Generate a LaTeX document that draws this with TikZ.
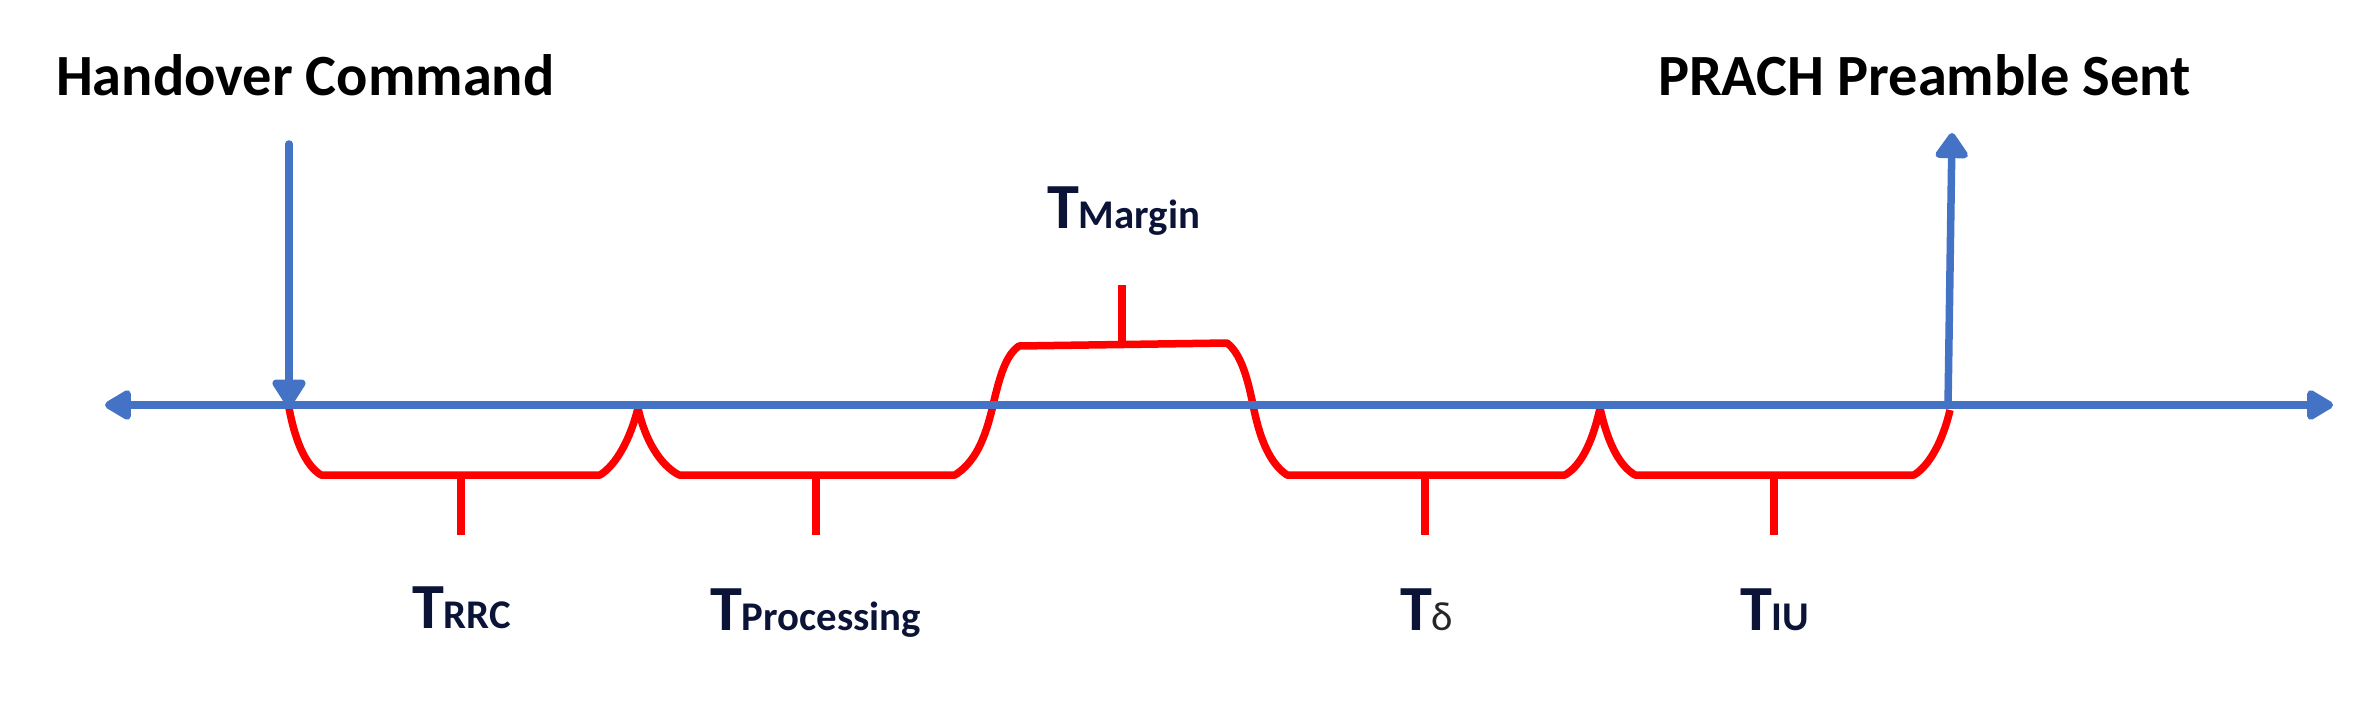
\documentclass[tikz,border=0pt]{standalone}
\usepackage{fontspec}
\setmainfont{Carlito}
\usetikzlibrary{arrows.meta}
\definecolor{axisblue}{HTML}{4472C4}
\definecolor{brred}{HTML}{FF0000}
\definecolor{navy}{HTML}{0B1437}
\definecolor{dgray}{HTML}{262626}
\newcommand{\Tlabel}[1]{{\fontsize{18.3}{18}\selectfont\bfseries T}{\fontsize{11.6}{12}\selectfont\bfseries #1}}
\tikzset{
  axisline/.style={draw=axisblue, line width=0.075cm},
  evarrow/.style={draw=axisblue, line width=0.075cm, line cap=round},
  bracket/.style={draw=brred, line width=0.075cm, line join=round},
  heading/.style={inner sep=0pt, outer sep=0pt, anchor=base west, font=\fontsize{16.6}{18}\selectfont\bfseries},
  tlab/.style={inner sep=0pt, outer sep=0pt, anchor=base west, text=navy}
}
\begin{document}
\begin{tikzpicture}[x=0.01cm, y=-0.01cm]
\useasboundingbox (0,0) rectangle (2355,706);

% key points on the axis
\coordinate (axL) at (105,405);
\coordinate (axR) at (2333,405);
\coordinate (hcTop) at (289,144);
\coordinate (hcTip) at (289,407);
\coordinate (prBot) at (1948,405);
\coordinate (prTip) at (1952,133);

% red brackets
% T_RRC
\draw[bracket] (289,408) .. controls (295,440) and (305,465) .. (321,475)
  -- (600,475) .. controls (616,465) and (630,440) .. (638,408);
\draw[bracket] (461,475) -- (461,535);
% T_Processing
\draw[bracket] (638,408) .. controls (645,440) and (660,465) .. (679,475)
  -- (955,475) .. controls (975,462) and (985,440) .. (993,405);
\draw[bracket] (816,475) -- (816,535);
% T_Margin
\draw[bracket] (993,405) .. controls (1000,375) and (1006,355) .. (1019,346)
  -- (1227,343) .. controls (1240,353) and (1247,375) .. (1253,405);
\draw[bracket] (1122,345) -- (1122,285);
% T_delta
\draw[bracket] (1253,405) .. controls (1259,435) and (1268,462) .. (1287,475)
  -- (1565,475) .. controls (1582,465) and (1593,440) .. (1600,408);
\draw[bracket] (1425,475) -- (1425,535);
% T_IU
\draw[bracket] (1600,408) .. controls (1607,440) and (1618,465) .. (1635,475)
  -- (1914,475) .. controls (1930,465) and (1943,440) .. (1950,410);
\draw[bracket] (1774,475) -- (1774,535);

% time axis
\draw[axisline, {Triangle[length=0.3cm,width=0.33cm,round]}-{Triangle[length=0.3cm,width=0.33cm,round]}] (axL) -- (axR);

% event arrows
\draw[evarrow, -{Triangle[length=0.31cm,width=0.37cm,round]}] (hcTop) -- (hcTip);
\draw[evarrow, -{Triangle[length=0.28cm,width=0.37cm,round]}] (prBot) -- (prTip);

% headings
\node[heading] (hc) at (56,95) {Handover Command};
\node[heading] (pr) at (1658,95) {PRACH Preamble Sent};

% interval labels
\node[tlab] (lrrc) at (412,628) {\Tlabel{RRC}};
\node[tlab] (lproc) at (710,630) {\Tlabel{Processing}};
\node[tlab] (lmarg) at (1047,228) {\Tlabel{Margin}};
\node[tlab] (ldelta) at (1400,630) {{\fontsize{18.3}{18}\selectfont\bfseries T}{\color{dgray}\fontsize{11.6}{12}\selectfont δ}};
\node[tlab] (liu) at (1740,630) {\Tlabel{IU}};
\end{tikzpicture}
\end{document}
